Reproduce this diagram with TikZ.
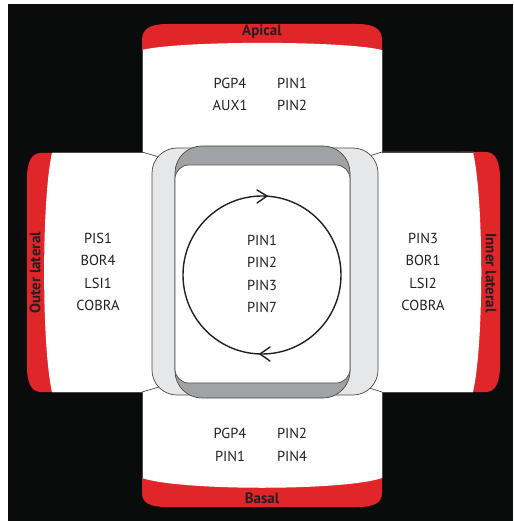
\documentclass[tikz,border=0pt]{standalone}
\usepackage{fontspec}
\setmainfont{PT Sans}
\usetikzlibrary{arrows.meta}
\definecolor{bgblack}{HTML}{0A0C0B}
\definecolor{bandred}{HTML}{E1262A}
\definecolor{lgrey}{HTML}{E6E7E8}
\definecolor{dgrey}{HTML}{A0A2A5}
\definecolor{ink}{HTML}{231F20}
\definecolor{edge}{HTML}{4A4A4A}
\tikzset{
  band/.style={fill=bandred},
  wbox/.style={fill=white},
  outl/.style={draw=edge, line width=0.7pt},
  item/.style={text=ink, font=\fontsize{14.5}{16}\selectfont, inner sep=0pt, anchor=center},
  side/.style={text=ink, font=\bfseries\fontsize{15}{16}\selectfont, inner sep=0pt, anchor=center},
}
\begin{document}
\begin{tikzpicture}[x=1pt,y=-1pt]
\useasboundingbox (0,0) rectangle (513,521);
\fill[bgblack] (8,4) rectangle (513,521);
% red bands
\fill[band] (142,60) -- (142,40) .. controls (142,29) and (150,24) .. (167,24) -- (357,24) .. controls (374,24) and (382,29) .. (382,40) -- (382,60) -- cycle;
\fill[band] (142,470) -- (142,493) .. controls (142,503) and (150,507) .. (167,507) -- (357,507) .. controls (374,507) and (382,503) .. (382,493) -- (382,470) -- cycle;
\fill[band] (60,153) -- (41,153) .. controls (31,153) and (27,163) .. (27,178) -- (27,367) .. controls (27,382) and (31,392) .. (41,392) -- (60,392) -- cycle;
\fill[band] (460,152) -- (486,152) .. controls (496,152) and (500,163) .. (500,178) -- (500,366) .. controls (500,381) and (496,392) .. (486,392) -- (460,392) -- cycle;
% white boxes
\fill[wbox] (142,200) -- (142,50) .. controls (180,40.5) and (344,40.5) .. (382,50) -- (382,200) -- cycle;
\fill[wbox] (142,360) -- (142,478) .. controls (180,491) and (344,491) .. (382,478) -- (382,360) -- cycle;
\fill[wbox] (200,153) -- (52,153) .. controls (41.5,200) and (41.5,345) .. (52,392) -- (200,392) -- cycle;
\fill[wbox] (330,152) -- (473,152) .. controls (484,200) and (484,344) .. (473,392) -- (330,392) -- cycle;
% box outlines
\draw[outl] (142,50) -- (142,152) -- (52,152);
\draw[outl] (382,50) -- (382,152) -- (473,152);
\draw[outl] (52,392) -- (142,392) -- (142,478);
\draw[outl] (473,392) -- (382,392) -- (382,478);
\draw[outl] (142,152) -- (159,157);
\draw[outl] (382,152) -- (366,157);
\draw[outl] (142,392) -- (159,387);
\draw[outl] (382,392) -- (366,387);
% central cell
\path[outl, fill=lgrey, rounded corners=25pt] (152,148) rectangle (378,395);
\path[outl, fill=dgrey, rounded corners=27pt] (175,146) rectangle (350,398);
\path[outl, fill=white, rounded corners=14pt] (175,165) rectangle (350,383);
% circulation
\draw[ink, line width=1.4pt] (262,275) circle[radius=79];
\draw[ink, line width=1.4pt, line cap=round, line join=miter] (257,190) -- (267,196) -- (257,203);
\draw[ink, line width=1.4pt, line cap=round, line join=miter] (270,347) -- (260,354) -- (270,361);
% texts
\node[side] (apical) at (262,32) {Apical};
\node[side] (basal) at (262,498) {Basal};
\node[side, rotate=90] (outer) at (35,273) {Outer lateral};
\node[side, rotate=-90] (inner) at (491,273) {Inner lateral};
\node[item] (a1) at (230,83) {PGP4};
\node[item] (a2) at (292,83) {PIN1};
\node[item] (a3) at (230,105) {AUX1};
\node[item] (a4) at (292,105) {PIN2};
\node[item] (b1) at (230,433) {PGP4};
\node[item] (b2) at (292,433) {PIN2};
\node[item] (b3) at (230,456) {PIN1};
\node[item] (b4) at (292,456) {PIN4};
\node[item] (l1) at (98,238) {PIS1};
\node[item] (l2) at (98,260.5) {BOR4};
\node[item] (l3) at (98,283) {LSI1};
\node[item] (l4) at (98,305.5) {COBRA};
\node[item] (r1) at (423,238) {PIN3};
\node[item] (r2) at (423,260.5) {BOR1};
\node[item] (r3) at (423,283) {LSI2};
\node[item] (r4) at (423,305.5) {COBRA};
\node[item] (c1) at (262,240) {PIN1};
\node[item] (c2) at (262,262.5) {PIN2};
\node[item] (c3) at (262,285) {PIN3};
\node[item] (c4) at (262,307.5) {PIN7};
\end{tikzpicture}
\end{document}
